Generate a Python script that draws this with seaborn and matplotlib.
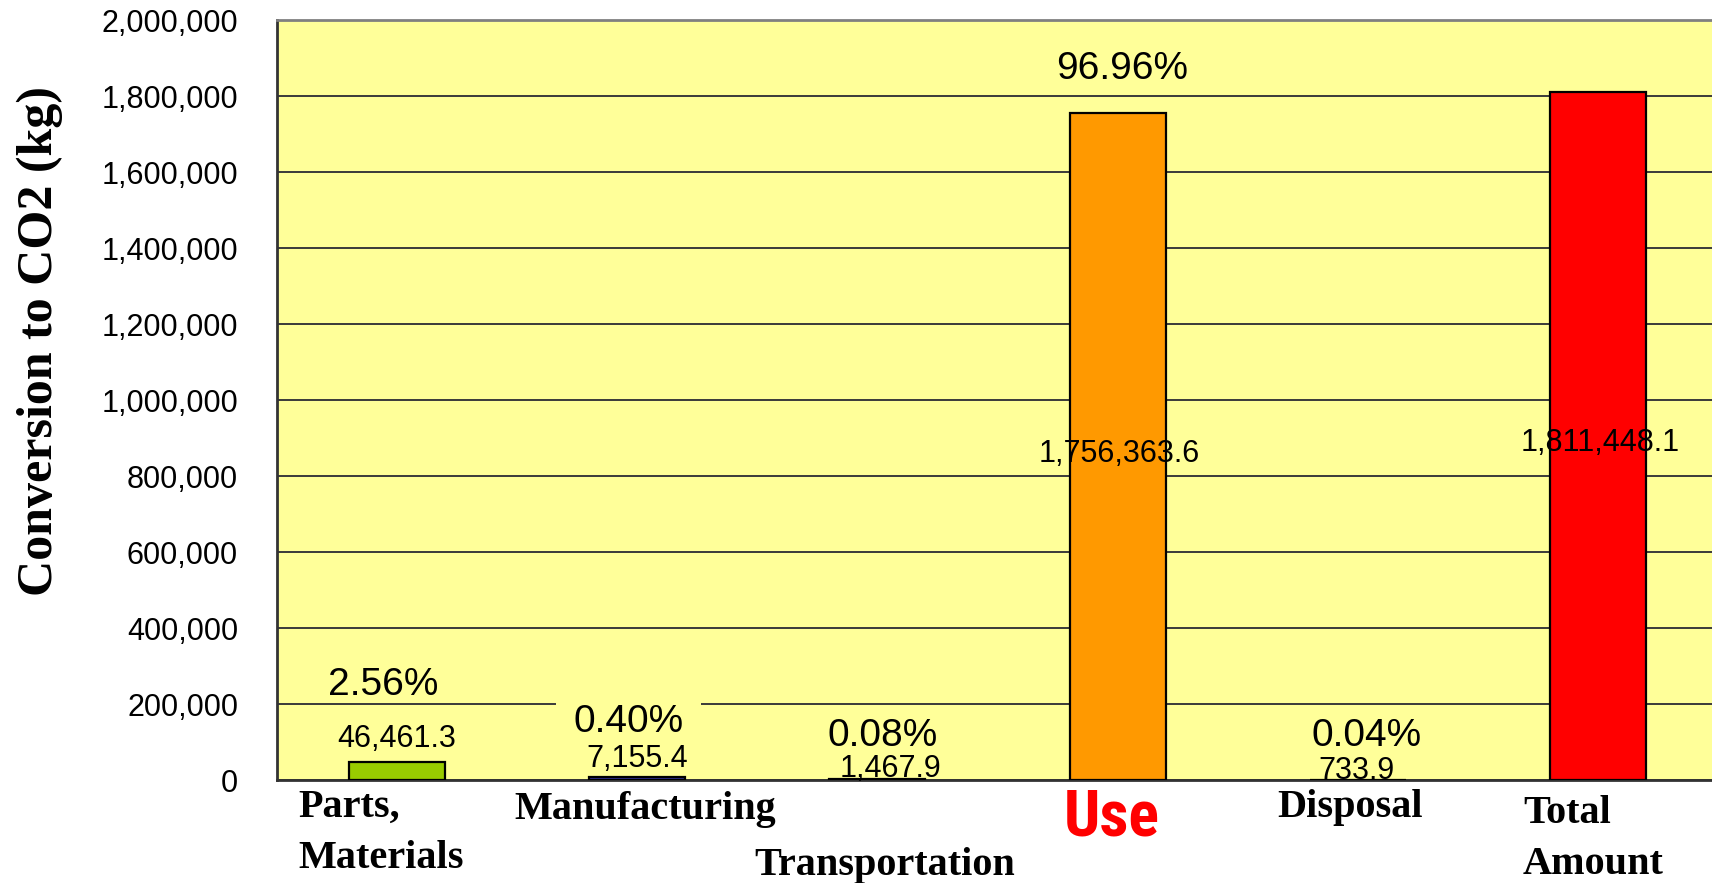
import matplotlib
matplotlib.use("Agg")
import matplotlib.pyplot as plt
from matplotlib import font_manager
from matplotlib.ticker import FuncFormatter, FixedLocator
import seaborn as sns
import pandas as pd

# ---- data -------------------------------------------------------------
stages = ["Parts,\nMaterials", "Manufacturing", "Transportation", "Use", "Disposal", "Total\nAmount"]
co2_kg = [46461.3, 7155.4, 1467.9, 1756363.6, 733.9, 1811448.1]
shares = ["2.56%", "0.40%", "0.08%", "96.96%", "0.04%", ""]
y_ticks = [0, 200000, 400000, 600000, 800000, 1000000, 1200000, 1400000, 1600000, 1800000, 2000000]

# ---- styling ----------------------------------------------------------
bar_colors = ["#99CC00", "#333399", "#3366FF", "#FF9900", "#3366FF", "#FF0000"]
plot_bg = "#FFFF99"
SANS = ["Liberation Sans", "DejaVu Sans"]
SERIF = ["Liberation Serif", "DejaVu Serif"]

PX = 72 / 100  # pixel -> point at dpi 100


def condensed_font():
    """Pick a narrow bold face for the highlighted stage, if one is installed."""
    faces = font_manager.fontManager.ttflist
    for name in ("Roboto Condensed", "Liberation Sans Narrow", "Open Sans Condensed",
                 "Noto Sans Display", "DejaVu Sans Condensed"):
        if any(f.name == name for f in faces):
            return dict(family=[name, "DejaVu Sans"], fontstretch="normal"), True
    if any(f.name == "DejaVu Sans" and f.stretch == "condensed" for f in faces):
        return dict(family=["DejaVu Sans"], fontstretch="condensed"), True
    return dict(family=["DejaVu Sans"], fontstretch="normal"), False


narrow_kw, has_narrow = condensed_font()

# label layout, in pixels relative to each category centre
share_pos = [(-14, 249000), (-9, 152500), (5, 115000), (5, 1870500), (9, 117000), None]
value_off = [(0, 23, "top"), (0, 18, "top"), (13, 10, "top"), (2, -8, "mid"), (-1, 9, "top"), (2, -7, "mid")]
cat_off = [(-99, -53, "left"), (8, -29, "center"), (7, -85, "center"),
           (-6, -38, "center"), (-8, -28, "center"), (-75, -59, "left")]

sns.set_style("white")
plt.rcParams["font.family"] = SANS
plt.rcParams["text.color"] = "black"
plt.rcParams["axes.labelcolor"] = "black"

fig = plt.figure(figsize=(17.12, 8.83), dpi=100)
ax = fig.add_axes([277 / 1712, 1 - 780 / 883, 1441 / 1712, 760 / 883])
ax.set_facecolor(plot_bg)

df = pd.DataFrame({"stage": stages, "co2": co2_kg})
sns.barplot(data=df, x="stage", y="co2", hue="stage", palette=bar_colors,
            saturation=1, width=0.4, edgecolor="black", linewidth=1.6,
            legend=False, ax=ax, zorder=3)

ax.set_xlim(-0.5, len(stages) - 0.5)
ax.set_ylim(0, 2000000)

# horizontal gridlines
ax.yaxis.set_major_locator(FixedLocator(y_ticks))
ax.yaxis.grid(True, color="#3a3a3a", linewidth=1.4)
ax.xaxis.grid(False)
ax.set_axisbelow(True)

ax.yaxis.set_major_formatter(FuncFormatter(lambda v, p: f"{v:,.0f}"))
ax.tick_params(axis="y", direction="in", length=12 * PX, width=1.5, color="#333333",
               labelsize=22, pad=28, labelcolor="black")

# category separators on the x axis
ax.set_xticks(range(len(stages)))
ax.set_xticklabels([""] * len(stages))
ax.tick_params(axis="x", length=0)
ax.set_xticks([i + 0.5 for i in range(len(stages) - 1)], minor=True)
ax.tick_params(axis="x", which="minor", direction="in", length=9 * PX, width=1.2, color="#333333")

for side in ("left", "bottom"):
    ax.spines[side].set_color("#333333")
    ax.spines[side].set_linewidth(2)
ax.spines["top"].set_color("#808080")
ax.spines["top"].set_linewidth(2)
ax.spines["right"].set_visible(False)

ax.set_xlabel("")
ax.set_ylabel("Conversion to CO2 (kg)", fontsize=36, fontweight="bold", family=SERIF,
              color="black")
ax.yaxis.set_label_coords(-(277 - 63) / 1441, 0.578)

# share labels (the Manufacturing one sits on a patch of background over the gridline)
for i, s in enumerate(shares):
    if not s:
        continue
    dx, yv = share_pos[i]
    box = dict(boxstyle="square,pad=0.45", fc=plot_bg, ec="none") if i == 1 else None
    ax.annotate(s, xy=(i, yv), xytext=(dx * PX, 0), textcoords="offset points",
                ha="center", va="center", fontsize=28, color="black", zorder=5, bbox=box)

# value labels
for i, v in enumerate(co2_kg):
    dx, dy, where = value_off[i]
    anchor = v if where == "top" else v / 2
    ax.annotate(f"{v:,.1f}", xy=(i, anchor), xytext=(dx * PX, dy * PX),
                textcoords="offset points", ha="center", va="center",
                fontsize=22, color="black", zorder=6)

# category labels below the axis
for i, name in enumerate(stages):
    dx, dy, ha = cat_off[i]
    if name == "Use":
        ax.annotate(name, xy=(i, 0), xytext=(dx * PX, dy * PX), textcoords="offset points",
                    ha=ha, va="center", fontsize=46 if has_narrow else 36,
                    fontweight="heavy", color="#FF0000", annotation_clip=False, **narrow_kw)
    else:
        ax.annotate(name, xy=(i, 0), xytext=(dx * PX, dy * PX), textcoords="offset points",
                    ha=ha, va="center", fontsize=29, fontweight="bold", color="black",
                    family=SERIF, linespacing=1.5, annotation_clip=False)

fig.savefig("out.png", dpi=100)
